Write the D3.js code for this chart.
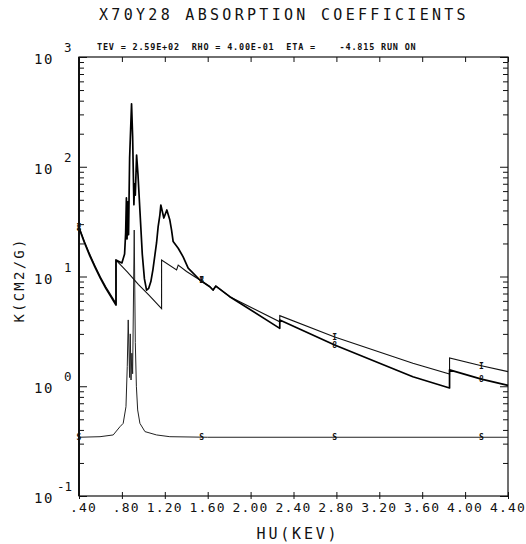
<!DOCTYPE html>
<html><head><meta charset="utf-8">
<script src="https://cdn.jsdelivr.net/npm/d3@7"></script>
<style>
html,body{margin:0;padding:0;background:#fff;}
svg{display:block;}
text{font-family:"DejaVu Sans Mono","Liberation Mono",monospace;fill:#111;}
</style></head>
<body>
<script>
// ---------- data ----------
const titleText = "X70Y28 ABSORPTION COEFFICIENTS";
const subTitleText = "TEV = 2.59E+02  RHO = 4.00E-01  ETA =    -4.815 RUN ON";
const xLabelText = "HU(KEV)";
const yLabelText = "K(CM2/G)";

const xTicks = [0.4,0.8,1.2,1.6,2.0,2.4,2.8,3.2,3.6,4.0,4.4];
const xTickLabels = [".40",".80","1.20","1.60","2.00","2.40","2.80","3.20","3.60","4.00","4.40"];
const yDecadeExp = [-1,0,1,2,3];
const yDecadeLabels = ["-1","0","1","2","3"];

// total (thick) curve, "8" markers
const totalX = [0.40,0.45,0.50,0.55,0.60,0.65,0.70,0.745,0.745,0.80,0.825,0.835,0.842,0.848,0.855,0.862,0.872,0.89,0.90,0.912,0.918,0.925,0.937,0.95,0.968,0.99,1.01,1.03,1.05,1.07,1.089,1.123,1.138,1.154,1.163,1.191,1.219,1.247,1.263,1.278,1.325,1.371,1.418,1.527,1.62,1.65,1.676,1.806,2.272,2.272,2.784,3.513,3.855,3.855,4.152,4.40];
const totalY = [27.7,20.4,15.5,12.1,9.6,7.8,6.5,5.5,14.1,13.3,16.0,25,52,22,48,24,120,375,190,45,70,55,128,85,40,16,9.5,7.5,7.8,9.0,11.5,20.2,28.5,36.3,44.8,34.1,40.4,32.7,26.5,20.8,18.1,15.1,11.9,9.29,8.07,7.53,8.18,6.55,3.37,4.02,2.38,1.22,0.964,1.41,1.16,1.02];

// thin curve, "I" markers
const thinX = [0.40,0.45,0.50,0.55,0.60,0.65,0.70,0.745,0.745,0.85,0.955,1.05,1.17,1.17,1.31,1.325,1.403,1.527,1.62,1.65,1.676,1.806,2.272,2.272,2.784,3.513,3.855,3.855,4.152,4.40];
const thinY = [28.5,21.0,16.0,12.5,9.9,8.05,6.7,5.7,14.1,11.0,8.45,6.8,5.1,14.1,11.5,12.7,11.1,9.29,8.07,7.53,8.18,6.55,3.87,4.4,2.81,1.62,1.29,1.81,1.54,1.36];

// scattering curve, "S" markers
const scatX = [0.40,0.596,0.719,0.782,0.812,0.838,0.850,0.859,0.872,0.878,0.885,0.893,0.90,0.915,0.925,0.935,0.947,0.968,1.015,1.123,1.247,1.60,4.40];
const scatY = [0.343,0.347,0.36,0.428,0.459,0.651,1.51,4.02,1.2,3.0,1.14,2.0,1.3,26.5,2.5,1.0,0.608,0.459,0.386,0.36,0.347,0.343,0.343];

const markerX = [0.40,1.544,2.784,4.152];
const totalMarkY = [27.7,9.29,2.38,1.16];
const thinMarkY = [28.5,9.29,2.81,1.54];
const scatMarkY = [0.343,0.343,0.343,0.343];

// ---------- layout ----------
const W = 526, H = 544;
const L = 79, R = 508, T = 57, B = 496;

const svg = d3.select("body").append("svg").attr("width", W).attr("height", H);
svg.append("rect").attr("width", W).attr("height", H).attr("fill", "#fff");

const x = d3.scaleLinear().domain([0.4, 4.4]).range([L, R]);
const y = d3.scaleLog().domain([0.1, 1000]).range([B, T]);

// frame
svg.append("rect").attr("x", L).attr("y", T).attr("width", R - L).attr("height", B - T)
  .attr("fill", "none").attr("stroke", "#111").attr("stroke-width", 1.2);
svg.append("line").attr("x1", L).attr("x2", L).attr("y1", T).attr("y2", B)
  .attr("stroke", "#111").attr("stroke-width", 2);

const majors = yDecadeExp.map(e => Math.pow(10, e));
const minors = [];
for (let e = -1; e < 3; e++) for (let k = 2; k <= 9; k++) minors.push(k * Math.pow(10, e));

function styleAxis(g) {
  g.select(".domain").remove();
  g.selectAll(".tick text").remove();
  g.selectAll(".tick line").attr("stroke", "#111").attr("stroke-width", 1);
}
// left ticks (pointing inward)
svg.append("g").attr("transform", `translate(${L},0)`)
  .call(d3.axisRight(y).tickValues(majors).tickSize(8)).call(styleAxis);
svg.append("g").attr("transform", `translate(${L},0)`)
  .call(d3.axisRight(y).tickValues(minors).tickSize(5)).call(styleAxis);
// right ticks
svg.append("g").attr("transform", `translate(${R},0)`)
  .call(d3.axisLeft(y).tickValues(majors).tickSize(8)).call(styleAxis);
svg.append("g").attr("transform", `translate(${R},0)`)
  .call(d3.axisLeft(y).tickValues(minors).tickSize(5)).call(styleAxis);
// top ticks
svg.append("g").attr("transform", `translate(0,${T})`)
  .call(d3.axisBottom(x).tickValues(xTicks).tickSize(5)).call(styleAxis);
// bottom ticks (crossing)
svg.append("g").attr("transform", `translate(0,${B})`)
  .call(d3.axisTop(x).tickValues(xTicks).tickSize(4)).call(styleAxis);
svg.append("g").attr("transform", `translate(0,${B})`)
  .call(d3.axisBottom(x).tickValues(xTicks).tickSize(3)).call(styleAxis);

// x tick labels
svg.append("g").selectAll("text").data(xTicks).join("text")
  .attr("x", d => x(d) + 18).attr("y", 512)
  .attr("text-anchor", "end").attr("font-size", 13).attr("letter-spacing", 1.2)
  .text((d, i) => xTickLabels[i]);

// y decade labels
const yl = svg.append("g");
yl.selectAll("text.base").data(majors).join("text").attr("class", "base")
  .attr("x", 34).attr("y", d => y(d) + 7).attr("font-size", 14).attr("letter-spacing", 1.5)
  .text("10");
yl.selectAll("text.exp").data(majors).join("text").attr("class", "exp")
  .attr("x", d => d < 1 ? 57 : 64).attr("y", d => y(d) - 5).attr("font-size", 12.5)
  .text((d, i) => yDecadeLabels[i]);

// titles
svg.append("text").attr("x", 284).attr("y", 19.5).attr("text-anchor", "middle")
  .attr("font-size", 15).attr("letter-spacing", 3.3).text(titleText);
svg.append("text").attr("x", 97).attr("y", 49.5)
  .attr("font-size", 8.5).attr("font-weight", "bold").attr("letter-spacing", 0.8)
  .attr("xml:space", "preserve").style("white-space", "pre").text(subTitleText);
svg.append("text").attr("x", 298).attr("y", 539).attr("text-anchor", "middle")
  .attr("font-size", 15).attr("letter-spacing", 2.8).text(xLabelText);
svg.append("text").attr("transform", "translate(24,280) rotate(-90)").attr("text-anchor", "middle")
  .attr("font-size", 14).attr("letter-spacing", 2.2).text(yLabelText);

// curves
const line = d3.line().x(d => x(d[0])).y(d => y(d[1]));
const zipd = (a, b) => a.map((v, i) => [v, b[i]]);

const plot = svg.append("g");
plot.append("path").datum(zipd(scatX, scatY)).attr("d", line)
  .attr("fill", "none").attr("stroke", "#222").attr("stroke-width", 1);
plot.append("path").datum(zipd(thinX, thinY)).attr("d", line)
  .attr("fill", "none").attr("stroke", "#111").attr("stroke-width", 1.1);
plot.append("path").datum(zipd(totalX, totalY)).attr("d", line)
  .attr("fill", "none").attr("stroke", "#000").attr("stroke-width", 1.7)
  .attr("stroke-linejoin", "round");

// markers
function marks(ys, ch) {
  plot.append("g").selectAll("text").data(markerX).join("text")
    .attr("x", d => x(d)).attr("y", (d, i) => y(ys[i]) + 3)
    .attr("text-anchor", "middle").attr("font-size", 8).attr("font-weight", "bold")
    .text(ch);
}
marks(scatMarkY, "S");
marks(thinMarkY, "I");
marks(totalMarkY, "8");
</script>
</body></html>
